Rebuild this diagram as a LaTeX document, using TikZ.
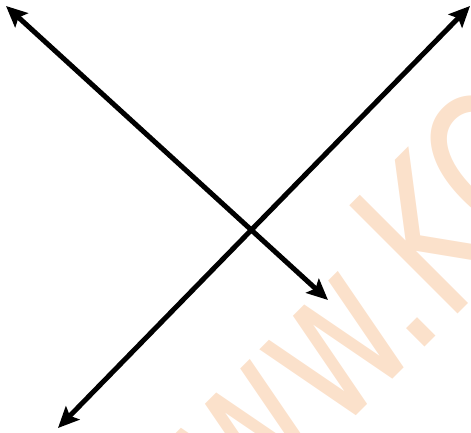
\documentclass[tikz,border=0pt]{standalone}
\usepackage{fontspec}
\newfontfamily\wmfont{DejaVu Sans}
\usetikzlibrary{arrows.meta}
\definecolor{wmorange}{RGB}{251,225,203}
\begin{document}
\begin{tikzpicture}[x=1pt,y=-1pt,
  tip/.tip={Stealth[length=21pt,width=19pt,inset=4pt]},
  axisline/.style={line width=5pt, tip-tip},
  watermark/.style={text=wmorange, font=\wmfont\fontsize{210}{250}\selectfont, inner sep=0pt, anchor=base west, transform shape}]
\useasboundingbox (0,0) rectangle (471,433);
\clip (0,0) rectangle (471,433);
\begin{scope}[shift={(161,611)}, rotate=45, xscale=0.72]
  \node[watermark] (wm) at (0,0) {www.KO};
\end{scope}
\coordinate (a1) at (6,6);
\coordinate (a2) at (328,300);
\coordinate (b1) at (58,428);
\coordinate (b2) at (470,6);
\draw[axisline] (a1) -- (a2);
\draw[axisline] (b1) -- (b2);
\end{tikzpicture}
\end{document}
